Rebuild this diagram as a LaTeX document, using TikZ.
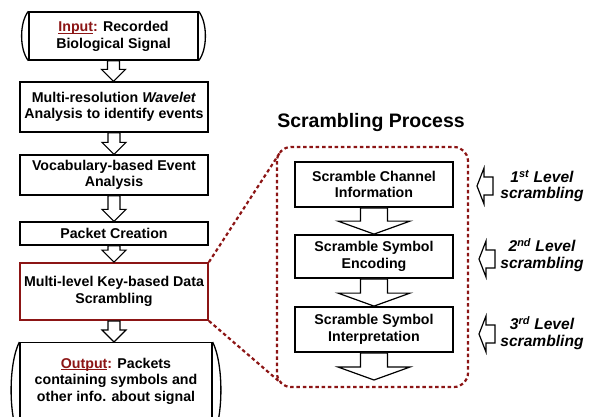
\documentclass[tikz,border=0pt]{standalone}
\usepackage{fontspec}
\setmainfont{Liberation Sans}
\usetikzlibrary{calc}
\definecolor{darkred}{HTML}{8C1515}

% underline drawn with a rule just below the baseline
\newcommand\lineunder[1]{\setbox0\hbox{#1}\rlap{\rule[-2.2pt]{\wd0}{0.9pt}}\box0}

% hollow block arrow pointing down from one node anchor to another
% #1 from, #2 to, #3 shaft half width, #4 head half width, #5 head length
\newcommand\blockdown[5]{%
  \draw[arrowline] let \p1=(#1), \p2=(#2) in
    (\x1-#3,\y1) -- (\x1+#3,\y1) -- (\x1+#3,\y2+#5) -- (\x1+#4,\y2+#5)
    -- (\x1,\y2) -- (\x1-#4,\y2+#5) -- (\x1-#3,\y2+#5) -- cycle;}

\tikzset{
  txt/.style={font=\fontsize{14.2}{16.5}\selectfont\bfseries, align=center},
  stepbox/.style={txt, draw=black, line width=1.3pt, fill=white,
    minimum width=188pt, inner sep=0pt},
  keybox/.style={stepbox, draw=darkred, line width=1.8pt},
  innerbox/.style={txt, draw=black, line width=1.8pt, fill=white,
    minimum width=158pt, inner sep=0pt},
  arrowline/.style={draw=black, line width=1.2pt, fill=white, line join=miter},
  levellabel/.style={font=\fontsize{15.6}{16.5}\selectfont\bfseries\itshape, align=center},
  dashline/.style={draw=darkred, line width=2.2pt, dash pattern=on 3.5pt off 2.8pt},
  leftarrow/.pic={\draw[arrowline] (0,0) -- (7,-18) -- (7,-9) -- (16,-9)
    -- (16,9) -- (7,9) -- (7,18) -- cycle;}
}

\begin{document}
\begin{tikzpicture}[x=1pt, y=-1pt]
\clip (0,0) rectangle (595,416);

% ---------------- left column ----------------
\node[stepbox, minimum width=169pt, minimum height=48pt] (in) at (113.5,36) {};
\draw[line width=1.3pt] (in.north west) .. controls ([xshift=-9pt,yshift=-11pt]in.north west)
  and ([xshift=-9pt,yshift=11pt]in.south west) .. (in.south west);
\draw[line width=1.3pt] (in.north east) .. controls ([xshift=9pt,yshift=-11pt]in.north east)
  and ([xshift=9pt,yshift=11pt]in.south east) .. (in.south east);
\node[txt] (intext) at (113.5,36.5) {\textcolor{darkred}{\lineunder{Input}:} Recorded\\Biological Signal};

\node[stepbox, minimum height=50pt] (wav) at (114,107)
  {Multi-resolution \textit{Wavelet}\\Analysis to identify events};
\node[stepbox, minimum height=40pt] (voc) at (114,175)
  {Vocabulary-based Event\\Analysis};
\node[stepbox, minimum height=23pt] (pkt) at (114,233.5) {Packet Creation};
\node[keybox, minimum height=57pt] (key) at (114,291.5)
  {Multi-level Key-based Data\\Scrambling};

\node[stepbox, minimum width=192pt, minimum height=95pt, anchor=north] (out) at (116,342) {};
\draw[line width=1.3pt] (out.north west) .. controls ([xshift=-11pt,yshift=-22pt]out.north west)
  and ([xshift=-11pt,yshift=22pt]out.south west) .. (out.south west);
\draw[line width=1.3pt] (out.north east) .. controls ([xshift=11pt,yshift=-22pt]out.north east)
  and ([xshift=11pt,yshift=22pt]out.south east) .. (out.south east);
\node[txt] (outtext) at (116,381)
  {\textcolor{darkred}{\lineunder{Output}:} Packets\\containing symbols and\\other info. about signal};

\blockdown{in.south}{wav.north}{6pt}{12pt}{12pt}
\blockdown{wav.south}{voc.north}{6pt}{12pt}{12pt}
\blockdown{voc.south}{pkt.north}{6pt}{12pt}{12pt}
\blockdown{pkt.south}{key.north}{6pt}{12pt}{12pt}
\blockdown{key.south}{out.north}{6pt}{12pt}{12pt}

% ---------------- scrambling process ----------------
\node[font=\fontsize{19.5}{23}\selectfont\bfseries] (title) at (371,122) {Scrambling Process};

\draw[dashline, rounded corners=14pt] (277,147) rectangle (468,387);
\coordinate (ctop) at (281,151);
\coordinate (cbot) at (281,383);
\draw[dashline] (key.north east) -- (ctop);
\draw[dashline] (key.south east) -- (cbot);

\node[innerbox, minimum height=45pt] (sa) at (374,184.5) {Scramble Channel\\Information};
\node[innerbox, minimum height=43pt] (sb) at (374,256.5) {Scramble Symbol\\Encoding};
\node[innerbox, minimum height=45pt] (sc) at (374,329.5) {Scramble Symbol\\Interpretation};
\coordinate (send) at (374,380);

\blockdown{sa.south}{sb.north}{13.5pt}{36pt}{13pt}
\blockdown{sb.south}{sc.north}{13.5pt}{36pt}{13pt}
\blockdown{sc.south}{send}{13.5pt}{36pt}{13pt}

% level markers
\pic at (477,186) {leftarrow};
\pic at (479,259) {leftarrow};
\pic at (479,334) {leftarrow};
\node[levellabel] (la) at (542,186) {1\textsuperscript{st} Level\\scrambling};
\node[levellabel] (lb) at (542,255) {2\textsuperscript{nd} Level\\scrambling};
\node[levellabel] (lc) at (542,333) {3\textsuperscript{rd} Level\\scrambling};
\end{tikzpicture}
\end{document}
